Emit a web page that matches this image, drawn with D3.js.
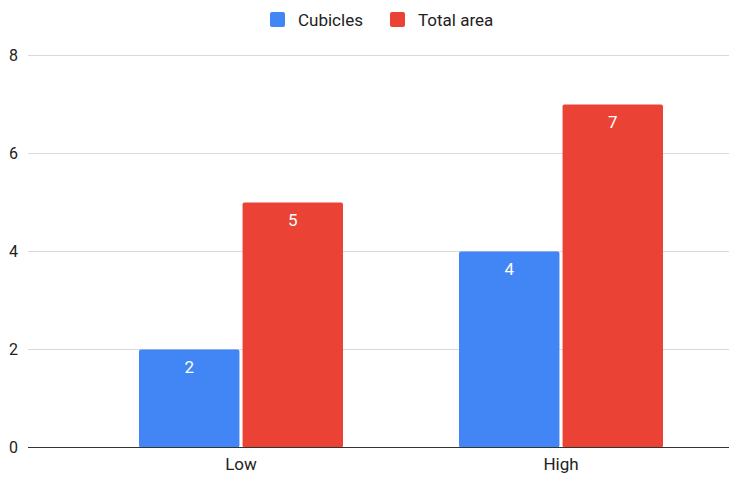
<!DOCTYPE html>
<html>
<head>
<meta charset="utf-8">
<script src="https://cdn.jsdelivr.net/npm/d3@7"></script>
<style>
  body { margin: 0; background: #fff; }
  #chart { width: 729px; height: 477px; }
</style>
</head>
<body>
<div id="chart"></div>
<script>
// chart data
const categories = ["Low", "High"];
const seriesNames = ["Cubicles", "Total area"];
const cubicles = [2, 4];
const totalArea = [5, 7];
const yTicks = [0, 2, 4, 6, 8];
const colors = ["#4285f4", "#ea4335"];

const series = [cubicles, totalArea];

const width = 729, height = 477;
const font = "Roboto, Arial, sans-serif";

const svg = d3.select("#chart").append("svg")
  .attr("width", width)
  .attr("height", height)
  .style("font-family", font);

// scales
const y = d3.scaleLinear()
  .domain([0, 8])
  .range([447.5, 55.5]);

const x0 = d3.scaleBand()
  .domain(categories)
  .range([81, 721])
  .paddingInner(0.3625)
  .paddingOuter(0.18125);

const x1 = d3.scaleBand()
  .domain(seriesNames)
  .range([0, x0.bandwidth()])
  .paddingInner(0.03);

// gridlines
svg.selectAll("line.grid")
  .data(yTicks.filter(d => d !== 0))
  .enter().append("line")
  .attr("class", "grid")
  .attr("x1", 28)
  .attr("x2", width)
  .attr("y1", d => y(d))
  .attr("y2", d => y(d))
  .style("stroke", "#d9d9d9")
  .style("stroke-width", 1);

// y axis labels
const yAxis = d3.axisLeft(y)
  .tickValues(yTicks)
  .tickSize(0)
  .tickPadding(0);

svg.append("g")
  .attr("class", "y axis")
  .attr("transform", "translate(18,0)")
  .call(yAxis)
  .call(g => g.select(".domain").remove())
  .selectAll("text")
  .style("font-family", font)
  .style("font-size", "16px")
  .style("fill", "#222");

// bars
const groups = svg.selectAll("g.group")
  .data(categories)
  .enter().append("g")
  .attr("class", "group")
  .attr("transform", d => "translate(" + x0(d) + ",0)");

groups.selectAll("rect")
  .data((d, i) => seriesNames.map((s, j) => ({ s: s, v: series[j][i], j: j })))
  .enter().append("rect")
  .attr("x", d => x1(d.s))
  .attr("width", x1.bandwidth())
  .attr("y", d => y(d.v))
  .attr("height", d => y(0) - y(d.v))
  .attr("rx", 2)
  .attr("fill", d => colors[d.j]);

// value labels
groups.selectAll("text.value")
  .data((d, i) => seriesNames.map((s, j) => ({ s: s, v: series[j][i] })))
  .enter().append("text")
  .attr("class", "value")
  .attr("x", d => x1(d.s) + x1.bandwidth() / 2)
  .attr("y", d => y(d.v) + 23)
  .attr("text-anchor", "middle")
  .style("font-size", "17px")
  .style("fill", "#fff")
  .text(d => d.v);

// x axis
const xAxis = d3.axisBottom(x0)
  .tickSize(0)
  .tickPadding(10);

svg.append("g")
  .attr("class", "x axis")
  .attr("transform", "translate(0," + y(0) + ")")
  .call(xAxis)
  .call(g => g.select(".domain").remove())
  .selectAll("text")
  .style("font-family", font)
  .style("font-size", "17px")
  .style("fill", "#222");

svg.append("line")
  .attr("x1", 28)
  .attr("x2", width)
  .attr("y1", y(0))
  .attr("y2", y(0))
  .style("stroke", "#333")
  .style("stroke-width", 1.2);

// legend
const legendX = [270, 390];
const legend = svg.selectAll("g.legend")
  .data(seriesNames)
  .enter().append("g")
  .attr("class", "legend")
  .attr("transform", (d, i) => "translate(" + legendX[i] + ",12)");

legend.append("rect")
  .attr("width", 15)
  .attr("height", 15)
  .attr("rx", 2)
  .attr("fill", (d, i) => colors[i]);

legend.append("text")
  .attr("x", 28)
  .attr("y", 14)
  .style("font-size", "17px")
  .style("fill", "#222")
  .text(d => d);
</script>
</body>
</html>
